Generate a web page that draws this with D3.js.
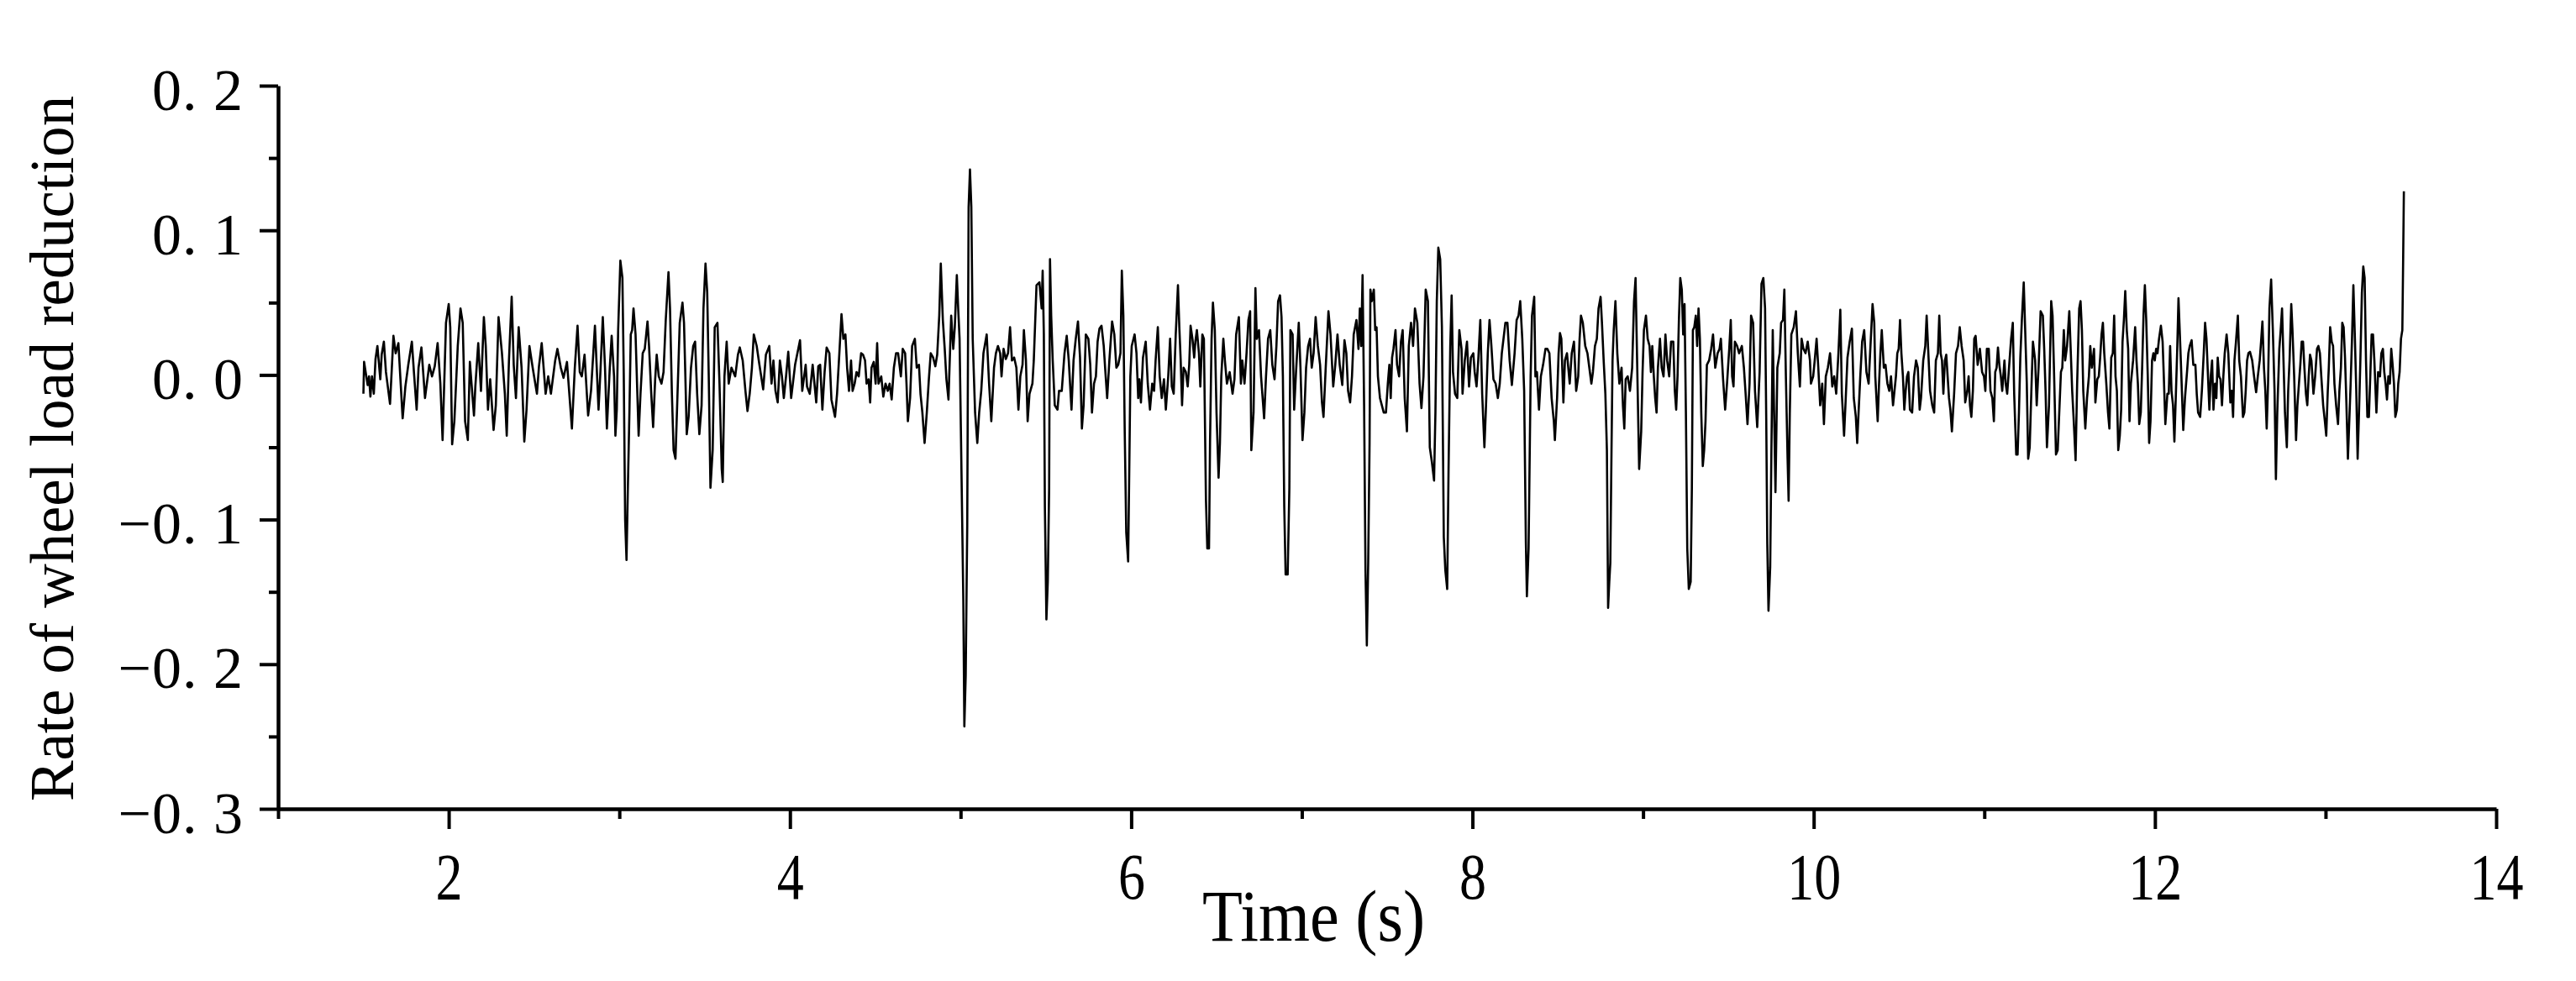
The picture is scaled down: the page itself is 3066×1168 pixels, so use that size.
<!DOCTYPE html>
<html>
<head>
<meta charset="utf-8">
<script src="https://cdn.jsdelivr.net/npm/d3@7"></script>
<style>
  html, body { margin: 0; padding: 0; background: #ffffff; }
  svg { display: block; }
</style>
</head>
<body>
<script>
// ---------------- DATA ----------------
const yMajorTicks = [-0.3, -0.2, -0.1, 0.0, 0.1, 0.2];
const yMinorTicks = [-0.25, -0.15, -0.05, 0.05, 0.15];
const xMajorTicks = [2, 4, 6, 8, 10, 12, 14];
const xMinorTicks = [1, 3, 5, 7, 9, 11, 13];
const xTitle = "Time (s)";
const yTitle = "Rate of wheel load reduction";

// signal, [time (s), rate of wheel load reduction], split in time windows
const seg1 = [[1.500,-0.013],[1.504,0.009],[1.517,-0.001],[1.525,-0.007],[1.533,-0.001],[1.541,-0.015],[1.550,-0.001],[1.561,-0.013],[1.571,0.011],[1.582,0.020],[1.599,-0.003],[1.607,0.014],[1.620,0.023],[1.632,0.002],[1.656,-0.020],[1.676,0.027],[1.689,0.015],[1.705,0.022],[1.730,-0.030],[1.746,-0.008],[1.763,0.007],[1.784,0.023],[1.796,0.002],[1.812,-0.024],[1.823,0.005],[1.840,0.019],[1.861,-0.016],[1.886,0.007],[1.902,-0.001],[1.918,0.006],[1.935,0.022],[1.951,-0.006],[1.964,-0.045],[1.984,0.036],[2.000,0.049],[2.009,0.033],[2.020,-0.048],[2.033,-0.032],[2.053,0.020],[2.069,0.046],[2.082,0.036],[2.096,-0.032],[2.112,-0.045],[2.124,0.009],[2.140,-0.016],[2.148,-0.028],[2.156,-0.008],[2.173,0.022],[2.189,-0.011],[2.206,0.040],[2.217,0.020],[2.230,-0.024],[2.243,-0.003],[2.263,-0.038],[2.276,-0.021],[2.292,0.040],[2.312,0.015],[2.329,-0.013],[2.340,-0.042],[2.353,0.010],[2.369,0.054],[2.381,0.007],[2.394,-0.016],[2.410,0.033],[2.427,0.005],[2.443,-0.046],[2.456,-0.024],[2.473,0.020],[2.492,0.005],[2.517,-0.013],[2.529,0.006],[2.545,0.022],[2.568,-0.013],[2.583,-0.001],[2.599,-0.013],[2.624,0.010],[2.637,0.018],[2.657,0.005],[2.673,-0.002],[2.693,0.009],[2.722,-0.037],[2.739,0.005],[2.755,0.034],[2.768,0.002],[2.780,-0.001],[2.796,0.014],[2.817,-0.028],[2.834,-0.011],[2.857,0.034],[2.878,-0.024],[2.889,0.002],[2.903,0.040],[2.916,0.005],[2.927,-0.037],[2.944,0.005],[2.955,0.027]];

const seg2 = [[2.969,-0.001],[2.977,-0.042],[2.985,-0.024],[2.993,0.031],[3.006,0.079],[3.018,0.067],[3.026,-0.001],[3.034,-0.100],[3.042,-0.128],[3.050,-0.078],[3.059,-0.026],[3.067,0.028],[3.075,0.031],[3.083,0.046],[3.095,0.028],[3.105,-0.011],[3.113,-0.042],[3.124,-0.013],[3.137,0.015],[3.149,0.018],[3.165,0.037],[3.174,0.020],[3.187,-0.013],[3.198,-0.036],[3.210,-0.003],[3.219,0.014],[3.231,-0.001],[3.247,-0.006],[3.259,0.002],[3.272,0.038],[3.288,0.071],[3.297,0.046],[3.308,-0.013],[3.318,-0.052],[3.329,-0.058],[3.341,-0.013],[3.354,0.036],[3.370,0.050],[3.379,0.036],[3.387,-0.001],[3.395,-0.041],[3.406,-0.029],[3.420,0.005],[3.433,0.020],[3.444,0.023],[3.456,-0.013],[3.469,-0.041],[3.482,-0.021],[3.493,0.046],[3.505,0.077],[3.515,0.057],[3.524,-0.001],[3.534,-0.078],[3.547,-0.052],[3.559,0.033],[3.575,0.036],[3.587,-0.006],[3.600,-0.065],[3.606,-0.074],[3.616,-0.001],[3.629,0.023],[3.641,-0.006],[3.657,0.005],[3.679,-0.001],[3.695,0.014],[3.706,0.019],[3.723,0.010],[3.739,-0.011],[3.751,-0.025],[3.764,-0.013],[3.777,0.005],[3.788,0.028],[3.805,0.020],[3.821,0.007],[3.843,-0.010],[3.859,0.014],[3.879,0.020],[3.892,-0.006],[3.903,0.010],[3.915,-0.011],[3.928,-0.019],[3.941,0.010],[3.953,-0.001],[3.964,-0.016],[3.977,-0.001],[3.990,0.016],[4.007,-0.016],[4.030,0.007],[4.059,0.024],[4.072,-0.011],[4.092,0.007],[4.100,-0.008],[4.116,-0.013],[4.133,0.007],[4.154,-0.019],[4.166,0.006],[4.177,0.007],[4.190,-0.024],[4.203,0.002],[4.215,0.019],[4.231,0.015],[4.243,-0.017],[4.264,-0.029],[4.276,-0.013],[4.289,0.014],[4.302,0.042],[4.313,0.025],[4.325,0.028],[4.335,0.005],[4.346,-0.011],[4.358,0.010],[4.367,-0.011],[4.379,-0.006],[4.390,0.002],[4.403,-0.001],[4.417,0.015],[4.428,0.014],[4.440,0.010],[4.449,-0.006],[4.461,-0.003]];

const seg3 = [[4.470,-0.019],[4.478,0.005],[4.491,0.009],[4.502,-0.006],[4.511,0.022],[4.519,-0.006],[4.535,-0.001],[4.547,-0.015],[4.560,-0.006],[4.573,-0.011],[4.584,-0.006],[4.596,-0.017],[4.609,0.005],[4.622,0.015],[4.634,0.015],[4.650,-0.001],[4.661,0.018],[4.675,0.015],[4.683,-0.006],[4.691,-0.032],[4.704,-0.016],[4.716,0.020],[4.732,0.025],[4.743,0.005],[4.756,0.007],[4.765,-0.013],[4.776,-0.026],[4.789,-0.047],[4.802,-0.026],[4.814,-0.003],[4.825,0.015],[4.839,0.012],[4.852,0.006],[4.863,0.014],[4.875,0.041],[4.884,0.077],[4.896,0.038],[4.907,0.018],[4.917,-0.003],[4.929,-0.017],[4.937,0.012],[4.945,0.041],[4.957,0.018],[4.966,0.033],[4.978,0.069],[4.986,0.046],[4.994,0.025],[5.006,-0.073],[5.016,-0.156],[5.022,-0.243],[5.030,-0.208],[5.039,-0.104],[5.047,0.116],[5.055,0.142],[5.063,0.116],[5.071,0.025],[5.085,-0.026],[5.098,-0.047],[5.109,-0.026],[5.121,-0.011],[5.134,0.015],[5.153,0.028],[5.167,-0.006],[5.180,-0.032],[5.196,0.005],[5.207,0.015],[5.219,0.020],[5.232,0.015],[5.240,-0.001],[5.252,0.018],[5.265,0.011],[5.278,0.015],[5.290,0.033],[5.301,0.010],[5.314,0.012],[5.327,0.005],[5.339,-0.024],[5.350,-0.001],[5.363,0.007],[5.371,0.031],[5.383,0.010],[5.393,-0.032],[5.404,-0.013],[5.421,-0.006],[5.429,0.010],[5.445,0.062],[5.462,0.064],[5.475,0.046],[5.481,0.072],[5.488,0.028],[5.494,-0.091],[5.503,-0.169],[5.511,-0.143],[5.519,-0.078],[5.524,0.080],[5.531,0.041],[5.540,0.010],[5.552,-0.021],[5.568,-0.024],[5.577,-0.011],[5.593,-0.011],[5.609,0.015],[5.622,0.027],[5.634,0.010],[5.650,-0.024],[5.662,0.010],[5.675,0.025],[5.688,0.037],[5.700,0.012],[5.711,-0.037],[5.721,-0.021],[5.734,0.028],[5.749,0.025],[5.760,0.007],[5.770,-0.026],[5.782,-0.006],[5.793,-0.001],[5.803,0.023],[5.814,0.032],[5.826,0.034],[5.839,0.020],[5.847,0.005],[5.859,-0.016],[5.872,0.010],[5.888,0.037],[5.901,0.028],[5.913,0.005],[5.924,0.007],[5.937,0.015],[5.945,0.072]];

const seg4 = [[5.954,0.041],[5.962,-0.039],[5.971,-0.109],[5.982,-0.129],[5.990,-0.052],[5.995,-0.001],[6.003,0.020],[6.020,0.028],[6.031,0.015],[6.041,-0.016],[6.048,-0.003],[6.057,-0.019],[6.069,0.012],[6.085,0.023],[6.097,-0.006],[6.110,-0.024],[6.123,-0.006],[6.134,-0.011],[6.143,0.010],[6.156,0.033],[6.167,-0.001],[6.179,-0.016],[6.192,-0.003],[6.203,-0.024],[6.217,-0.001],[6.228,0.025],[6.238,-0.008],[6.249,-0.013],[6.261,0.028],[6.274,0.062],[6.282,0.033],[6.290,0.010],[6.298,-0.021],[6.307,0.005],[6.320,0.002],[6.331,-0.008],[6.340,0.007],[6.348,0.034],[6.359,0.025],[6.369,0.012],[6.376,0.023],[6.385,0.031],[6.397,0.015],[6.405,-0.008],[6.417,0.028],[6.426,0.025],[6.438,-0.086],[6.446,-0.120],[6.456,-0.120],[6.462,-0.047],[6.471,0.025],[6.479,0.050],[6.490,0.031],[6.500,-0.026],[6.512,-0.071],[6.520,-0.047],[6.528,-0.001],[6.540,0.025],[6.549,0.010],[6.561,-0.006],[6.577,0.002],[6.594,-0.013],[6.605,-0.003],[6.615,0.028],[6.631,0.040],[6.643,-0.006],[6.651,0.010],[6.664,-0.006],[6.676,0.015],[6.687,0.038],[6.697,0.044],[6.704,-0.052],[6.717,-0.026],[6.728,0.060],[6.736,0.025],[6.749,0.031],[6.761,-0.001],[6.779,-0.030],[6.790,-0.001],[6.802,0.025],[6.815,0.031],[6.827,0.007],[6.840,-0.003],[6.851,0.020],[6.861,0.051],[6.872,0.055],[6.881,0.040],[6.889,-0.001],[6.897,-0.091],[6.905,-0.138],[6.917,-0.138],[6.927,-0.078],[6.933,0.031],[6.946,0.028],[6.955,-0.024],[6.966,0.002],[6.982,0.036],[6.992,0.005],[7.004,-0.045],[7.015,-0.026],[7.025,0.005],[7.037,0.020],[7.048,0.025],[7.058,0.005],[7.069,0.015],[7.081,0.040],[7.094,0.020],[7.107,0.007],[7.118,-0.019],[7.127,-0.029],[7.140,0.005],[7.156,0.044],[7.168,0.028],[7.184,-0.008],[7.196,0.007],[7.209,0.028],[7.222,0.007],[7.237,-0.007],[7.250,0.024],[7.261,0.015],[7.271,-0.011],[7.283,-0.019],[7.294,-0.001],[7.304,0.028],[7.320,0.038],[7.332,0.018],[7.340,0.046],[7.348,0.020],[7.356,0.069],[7.365,-0.021],[7.373,-0.135],[7.381,-0.187],[7.389,-0.130],[7.397,-0.047],[7.402,0.059],[7.410,0.051],[7.422,0.059],[7.430,0.031],[7.438,0.033],[7.446,-0.001],[7.458,-0.016]];

const seg5 = [[7.480,-0.026],[7.493,-0.026],[7.504,-0.006],[7.513,0.007],[7.521,-0.016],[7.529,0.012],[7.537,0.018],[7.549,0.031],[7.558,0.007],[7.570,-0.001],[7.581,0.023],[7.591,0.031],[7.603,-0.016],[7.616,-0.039],[7.627,0.020],[7.640,0.036],[7.652,0.020],[7.663,0.046],[7.677,0.036],[7.690,-0.006],[7.701,-0.023],[7.713,-0.001],[7.726,0.059],[7.739,0.051],[7.750,-0.050],[7.762,-0.060],[7.775,-0.073],[7.783,-0.026],[7.791,0.051],[7.800,0.088],[7.811,0.080],[7.821,0.033],[7.832,-0.112],[7.841,-0.135],[7.852,-0.148],[7.860,-0.065],[7.870,0.020],[7.878,0.055],[7.886,0.002],[7.898,-0.013],[7.911,-0.016],[7.923,0.031],[7.936,0.018],[7.942,-0.013],[7.955,0.010],[7.968,0.023],[7.980,-0.008],[7.991,0.012],[8.005,0.015],[8.013,0.002],[8.024,-0.008],[8.034,0.010],[8.046,0.038],[8.057,-0.013],[8.070,-0.050],[8.078,-0.026],[8.090,0.015],[8.100,0.038],[8.111,0.020],[8.123,-0.003],[8.136,-0.006],[8.149,-0.016],[8.160,-0.006],[8.172,0.015],[8.182,0.025],[8.193,0.036],[8.205,0.036],[8.218,0.010],[8.231,-0.007],[8.247,0.015],[8.259,0.038],[8.270,0.041],[8.280,0.051],[8.292,0.025],[8.303,-0.011],[8.313,-0.115],[8.319,-0.153],[8.329,-0.120],[8.341,-0.001],[8.349,0.041],[8.362,0.054],[8.369,-0.001],[8.378,0.002],[8.390,-0.024],[8.401,-0.001],[8.414,0.007],[8.428,0.018],[8.439,0.018],[8.451,0.015],[8.464,-0.016],[8.477,-0.032],[8.483,-0.045],[8.496,-0.016],[8.505,0.015],[8.513,0.029],[8.521,0.025],[8.533,-0.019],[8.542,0.010],[8.554,0.015],[8.570,-0.006],[8.582,0.015],[8.595,0.023],[8.608,-0.011],[8.620,-0.001],[8.628,0.025],[8.636,0.041],[8.647,0.036],[8.661,0.020],[8.674,0.015],[8.685,0.005],[8.697,-0.006],[8.706,0.002],[8.718,0.020],[8.729,0.025],[8.739,0.046],[8.751,0.054],[8.759,0.036],[8.769,0.010],[8.779,-0.013],[8.788,-0.052],[8.795,-0.161],[8.802,-0.143],[8.808,-0.130],[8.815,-0.052],[8.821,0.010],[8.828,0.031],[8.838,0.051],[8.849,0.015],[8.861,-0.006],[8.874,0.005],[8.882,-0.021],[8.890,-0.037],[8.898,-0.003],[8.910,-0.001],[8.923,-0.011],[8.936,0.005],[8.947,0.051],[8.956,0.067]];

const seg6 = [[8.977,-0.065],[8.989,-0.039],[8.997,0.002],[9.005,0.031],[9.017,0.041],[9.027,0.025],[9.038,0.020],[9.046,0.002],[9.054,0.020],[9.063,-0.001],[9.071,-0.016],[9.079,-0.026],[9.087,0.005],[9.099,0.025],[9.109,0.005],[9.120,-0.001],[9.131,0.028],[9.141,0.010],[9.153,-0.001],[9.164,0.023],[9.177,0.023],[9.186,-0.011],[9.194,-0.024],[9.202,-0.001],[9.210,0.038],[9.218,0.067],[9.227,0.059],[9.235,0.028],[9.243,0.049],[9.251,-0.026],[9.259,-0.120],[9.268,-0.148],[9.279,-0.143],[9.286,-0.078],[9.292,0.031],[9.300,0.033],[9.309,0.041],[9.317,0.020],[9.325,0.046],[9.333,0.025],[9.341,-0.026],[9.350,-0.063],[9.358,-0.052],[9.366,-0.032],[9.374,0.007],[9.387,0.010],[9.399,0.018],[9.410,0.028],[9.423,0.005],[9.437,0.015],[9.448,0.018],[9.456,0.025],[9.469,-0.003],[9.481,-0.024],[9.492,-0.006],[9.505,0.018],[9.514,0.038],[9.522,-0.001],[9.530,-0.008],[9.538,0.023],[9.551,0.020],[9.563,0.015],[9.579,0.020],[9.591,0.005],[9.601,-0.013],[9.612,-0.034],[9.624,-0.006],[9.633,0.041],[9.645,0.036],[9.656,-0.011],[9.669,-0.036],[9.683,0.002],[9.694,0.063],[9.705,0.067],[9.715,0.046],[9.722,-0.032],[9.728,-0.117],[9.735,-0.163],[9.745,-0.133],[9.751,-0.065],[9.760,0.031],[9.768,-0.026],[9.776,-0.081],[9.787,0.005],[9.801,0.015],[9.809,0.036],[9.820,0.038],[9.828,0.059],[9.837,-0.001],[9.847,-0.058],[9.853,-0.087],[9.860,-0.026],[9.869,0.028],[9.883,0.033],[9.896,0.044],[9.907,0.015],[9.919,-0.008],[9.929,0.025],[9.940,0.018],[9.952,0.015],[9.965,0.023],[9.978,0.010],[9.984,-0.006],[9.997,-0.001],[10.006,0.010],[10.017,0.025],[10.027,0.005],[10.038,-0.021],[10.050,-0.006],[10.060,-0.034],[10.071,-0.001],[10.083,0.005],[10.096,0.015],[10.109,-0.008],[10.120,-0.001],[10.132,-0.013],[10.145,0.015],[10.156,0.045],[10.165,-0.013],[10.178,-0.042],[10.186,-0.021],[10.198,0.012],[10.211,0.023],[10.224,0.032],[10.235,-0.016],[10.247,-0.029],[10.255,-0.047],[10.263,-0.026],[10.273,-0.001],[10.284,0.023],[10.296,0.031],[10.309,0.002],[10.322,-0.006],[10.334,0.023],[10.345,0.049],[10.355,0.036],[10.361,-0.001],[10.375,-0.032],[10.383,-0.006],[10.391,0.015],[10.399,0.031],[10.411,0.005],[10.421,0.007],[10.432,-0.006],[10.443,-0.011],[10.453,-0.001],[10.465,-0.021]];

const seg7 = [[10.482,-0.001],[10.490,0.015],[10.498,0.018],[10.506,0.038],[10.514,0.015],[10.523,-0.001],[10.531,-0.024],[10.539,-0.011],[10.547,-0.001],[10.555,0.002],[10.564,-0.024],[10.577,-0.026],[10.588,-0.001],[10.600,0.010],[10.610,0.005],[10.621,-0.024],[10.629,-0.016],[10.642,0.010],[10.654,0.020],[10.662,0.041],[10.670,0.020],[10.682,-0.011],[10.695,-0.021],[10.706,-0.026],[10.716,0.010],[10.728,0.015],[10.736,0.041],[10.744,0.015],[10.752,0.010],[10.760,-0.013],[10.769,0.010],[10.777,0.014],[10.785,-0.001],[10.793,-0.016],[10.801,-0.024],[10.810,-0.039],[10.823,-0.013],[10.834,0.015],[10.846,0.020],[10.856,0.033],[10.867,0.020],[10.879,0.010],[10.888,-0.019],[10.900,-0.011],[10.908,-0.001],[10.916,-0.021],[10.924,-0.029],[10.933,-0.011],[10.941,0.025],[10.949,0.027],[10.961,0.007],[10.974,0.018],[10.987,0.002],[10.998,-0.001],[11.006,-0.011],[11.015,0.018],[11.026,0.018],[11.036,-0.011],[11.047,-0.016],[11.056,-0.032],[11.064,0.002],[11.072,0.005],[11.080,0.019],[11.088,0.007],[11.097,-0.001],[11.105,-0.011],[11.118,0.010],[11.125,-0.006],[11.134,-0.013],[11.146,0.007],[11.157,0.025],[11.167,0.036],[11.175,-0.013],[11.187,-0.055],[11.195,-0.055],[11.203,-0.026],[11.211,0.012],[11.220,0.038],[11.231,0.064],[11.239,0.033],[11.249,-0.006],[11.257,-0.058],[11.266,-0.050],[11.277,-0.006],[11.285,0.023],[11.298,0.010],[11.307,-0.021],[11.318,0.005],[11.330,0.044],[11.343,0.041],[11.351,0.018],[11.359,-0.011],[11.367,-0.050],[11.379,-0.021],[11.392,0.051],[11.400,0.041],[11.408,0.005],[11.420,-0.055],[11.430,-0.052],[11.441,-0.021],[11.449,0.002],[11.457,0.005],[11.466,0.031],[11.474,0.010],[11.485,0.020],[11.498,0.044],[11.507,0.015],[11.515,-0.011],[11.523,-0.029],[11.535,-0.059],[11.544,-0.006],[11.556,0.046],[11.564,0.051],[11.572,0.031],[11.580,-0.011],[11.592,-0.037],[11.602,-0.016],[11.613,-0.001],[11.621,0.020],[11.630,0.005],[11.643,0.018],[11.651,-0.019],[11.662,-0.003],[11.671,-0.001],[11.679,0.012],[11.687,0.028],[11.695,0.036],[11.703,0.015],[11.715,-0.006],[11.725,-0.026],[11.733,-0.037],[11.744,0.012],[11.753,0.015],[11.761,0.041],[11.769,-0.001],[11.777,-0.011],[11.785,-0.052],[11.794,-0.042],[11.802,-0.024],[11.810,0.023],[11.818,0.038],[11.826,0.058],[11.835,0.031],[11.843,0.018],[11.851,-0.032],[11.859,-0.006],[11.872,0.010],[11.884,0.033],[11.892,0.010],[11.900,-0.006],[11.908,-0.034],[11.917,-0.026],[11.925,0.005],[11.933,0.041],[11.941,0.062],[11.949,0.038],[11.958,-0.001],[11.966,-0.047]];

const seg8 = [[11.974,-0.032],[11.983,0.010],[11.991,0.015],[11.999,0.010],[12.007,0.018],[12.015,0.015],[12.024,0.025],[12.035,0.034],[12.045,0.023],[12.052,-0.001],[12.061,-0.034],[12.073,-0.013],[12.081,-0.013],[12.089,0.020],[12.097,-0.011],[12.106,-0.021],[12.114,-0.046],[12.122,-0.016],[12.130,0.015],[12.138,0.053],[12.147,0.025],[12.155,-0.001],[12.166,-0.038],[12.176,-0.016],[12.188,0.002],[12.196,0.015],[12.204,0.020],[12.215,0.024],[12.225,0.007],[12.237,0.007],[12.245,-0.013],[12.253,-0.026],[12.265,-0.029],[12.275,-0.011],[12.286,0.015],[12.294,0.036],[12.302,0.025],[12.311,-0.001],[12.319,-0.024],[12.327,-0.001],[12.335,0.010],[12.343,-0.024],[12.352,-0.006],[12.360,-0.016],[12.368,0.012],[12.376,-0.001],[12.384,-0.003],[12.393,-0.021],[12.401,-0.001],[12.409,0.015],[12.420,0.028],[12.430,0.015],[12.442,-0.019],[12.450,-0.011],[12.458,-0.029],[12.466,0.010],[12.475,0.023],[12.486,0.041],[12.494,0.010],[12.504,-0.001],[12.516,-0.029],[12.524,-0.026],[12.532,-0.011],[12.540,0.010],[12.548,0.015],[12.557,0.016],[12.570,0.010],[12.581,-0.001],[12.593,-0.012],[12.603,-0.001],[12.614,0.010],[12.622,0.023],[12.630,0.037],[12.639,0.005],[12.647,-0.011],[12.655,-0.037],[12.663,-0.006],[12.671,0.046],[12.681,0.066],[12.691,0.031],[12.701,-0.011],[12.709,-0.072],[12.717,-0.026],[12.729,0.018],[12.737,0.031],[12.745,0.046],[12.753,0.012],[12.762,-0.026],[12.773,-0.050],[12.781,-0.011],[12.789,0.010],[12.799,0.049],[12.806,0.031],[12.816,-0.001],[12.827,-0.045],[12.835,-0.021],[12.844,-0.006],[12.852,0.007],[12.860,0.023],[12.868,0.023],[12.876,0.005],[12.885,-0.013],[12.893,-0.021],[12.901,-0.001],[12.909,0.014],[12.917,0.010],[12.929,-0.013],[12.939,-0.001],[12.950,0.018],[12.958,0.020],[12.967,0.015],[12.975,-0.001],[12.986,-0.021],[12.996,-0.032],[13.004,-0.042],[13.013,-0.011],[13.019,0.005],[13.027,0.033],[13.036,0.023],[13.044,0.020],[13.052,-0.006],[13.062,-0.021],[13.073,-0.034],[13.081,-0.011],[13.090,0.005],[13.098,0.036],[13.106,0.033],[13.114,0.012],[13.122,-0.019],[13.131,-0.058],[13.139,-0.032],[13.147,-0.006],[13.155,0.025],[13.163,0.062],[13.172,0.025],[13.180,-0.011],[13.188,-0.058],[13.196,-0.026],[13.204,0.010],[13.213,0.057],[13.221,0.075],[13.229,0.067],[13.237,0.010],[13.245,-0.029],[13.254,-0.029],[13.262,-0.001],[13.270,0.028],[13.278,0.028],[13.286,0.010],[13.298,-0.026],[13.308,0.002],[13.319,-0.001],[13.327,0.015],[13.336,0.018],[13.344,0.002],[13.352,-0.006],[13.360,-0.017],[13.368,-0.001],[13.377,-0.006],[13.385,0.018],[13.393,0.007],[13.401,-0.006],[13.409,-0.029],[13.418,-0.024],[13.426,-0.006],[13.434,0.002],[13.442,0.025],[13.450,0.031],[13.455,0.082],[13.459,0.127]];

const signal = [].concat(seg1, seg2, seg3, seg4, seg5, seg6, seg7, seg8);

// ---------------- LAYOUT ----------------
const W = 3066, H = 1168;
const X0 = 331, X1 = 2971, Y0 = 963, Y1 = 102;
const serif = "'Liberation Serif', 'DejaVu Serif', serif";

const svg = d3.select("body").append("svg")
  .attr("width", W).attr("height", H)
  .style("background", "#fff");

const x = d3.scaleLinear().domain([1, 14]).range([X0, X1]);
const y = d3.scaleLinear().domain([-0.3, 0.2]).range([Y0, Y1]);

// signal line
svg.append("path")
  .datum(signal)
  .attr("fill", "none")
  .attr("stroke", "#000")
  .attr("stroke-width", 2.6)
  .attr("stroke-linejoin", "round")
  .attr("d", d3.line().x(d => x(d[0])).y(d => y(d[1])));

// ---- Y axis ----
const yAxisG = svg.append("g").attr("transform", `translate(${X0},0)`)
  .call(d3.axisLeft(y).tickValues(yMajorTicks).tickSize(22).tickSizeOuter(0).tickPadding(19)
    .tickFormat(d => (d < -1e-9 ? "\u2212" : "") + "0. " + Math.round(Math.abs(d) * 10)));
yAxisG.select(".domain").attr("stroke-width", 4.5).attr("stroke", "#000");
yAxisG.selectAll(".tick line").attr("stroke-width", 4).attr("stroke", "#000");
yAxisG.selectAll(".tick text")
  .attr("font-family", serif).attr("font-size", 70)
  .attr("letter-spacing", 1)
  .attr("dy", "0.40em")
  .attr("fill", "#000")
  .style("white-space", "pre");
yAxisG.attr("font-family", null).attr("font-size", null);

const yMinorG = svg.append("g").attr("transform", `translate(${X0},0)`)
  .call(d3.axisLeft(y).tickValues(yMinorTicks).tickSize(11).tickFormat(""));
yMinorG.select(".domain").remove();
yMinorG.selectAll(".tick line").attr("stroke-width", 4).attr("stroke", "#000");

// ---- X axis ----
const xAxisG = svg.append("g").attr("transform", `translate(0,${Y0})`)
  .call(d3.axisBottom(x).tickValues(xMajorTicks).tickSize(24).tickSizeOuter(0)
    .tickFormat(d3.format("d")));
xAxisG.select(".domain").attr("stroke-width", 4.5).attr("stroke", "#000");
xAxisG.selectAll(".tick line").attr("stroke-width", 4).attr("stroke", "#000");
xAxisG.selectAll(".tick text")
  .attr("font-family", serif).attr("font-size", 78)
  .attr("y", 107).attr("dy", 0)
  .attr("fill", "#000")
  .attr("textLength", d => String(d).length * 32)
  .attr("lengthAdjust", "spacingAndGlyphs");

const xMinorG = svg.append("g").attr("transform", `translate(0,${Y0})`)
  .call(d3.axisBottom(x).tickValues(xMinorTicks).tickSize(12).tickFormat(""));
xMinorG.select(".domain").remove();
xMinorG.selectAll(".tick line").attr("stroke-width", 4).attr("stroke", "#000");

// ---- titles ----
svg.append("text")
  .attr("x", 1431).attr("y", 1120)
  .attr("font-family", serif).attr("font-size", 86)
  .attr("textLength", 265).attr("lengthAdjust", "spacingAndGlyphs")
  .attr("fill", "#000")
  .text(xTitle);

svg.append("text")
  .attr("transform", "translate(87,534) rotate(-90)")
  .attr("text-anchor", "middle")
  .attr("font-family", serif).attr("font-size", 73)
  .attr("textLength", 840).attr("lengthAdjust", "spacingAndGlyphs")
  .attr("fill", "#000")
  .text(yTitle);
</script>
</body>
</html>
